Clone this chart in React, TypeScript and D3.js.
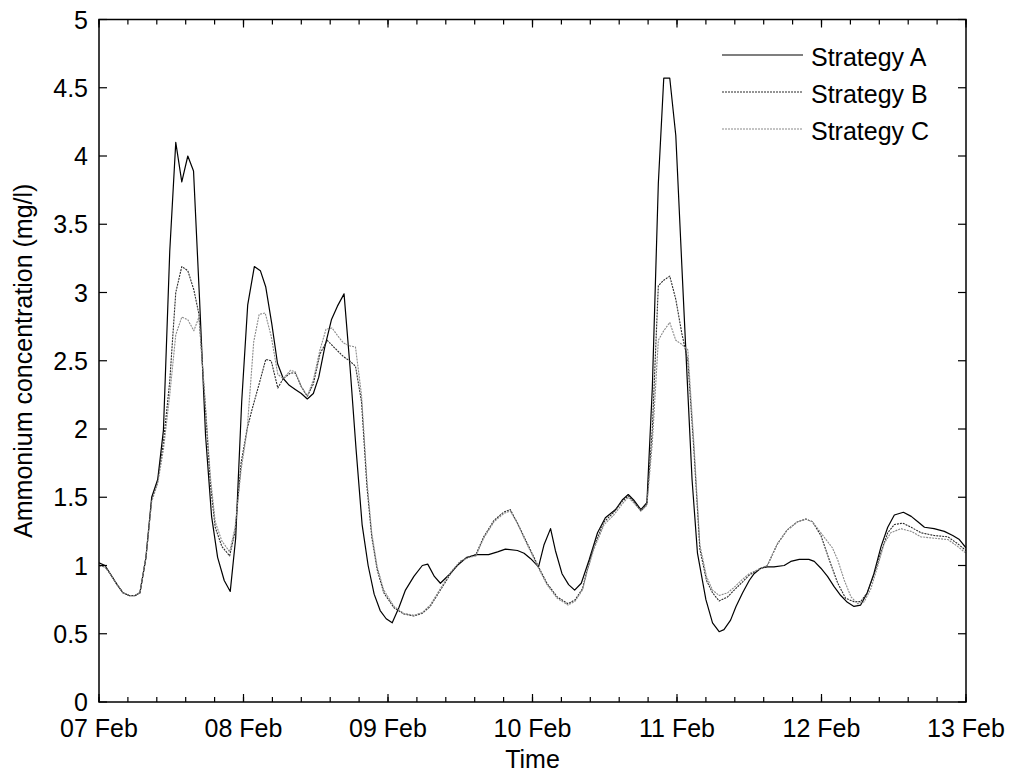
import React from "react";
import * as d3 from "d3";

// x values are hours after 07 Feb 00:00
const dayLabels = ["07 Feb", "08 Feb", "09 Feb", "10 Feb", "11 Feb", "12 Feb", "13 Feb"];
const yTickValues = [0, 0.5, 1, 1.5, 2, 2.5, 3, 3.5, 4, 4.5, 5];
const seriesNames = ["Strategy A", "Strategy B", "Strategy C"];

const strategyA: [number, number][] = [
  [0, 1.02], [1, 1.0], [2, 0.93], [3, 0.86], [4, 0.8], [5, 0.78], [6, 0.78], [6.8, 0.8],
  [7.8, 1.06], [8.75, 1.5], [9.75, 1.63], [10.7, 1.99], [11.75, 3.3], [12.75, 4.1],
  [13.75, 3.81], [14.75, 4.0], [15.7, 3.89], [16.7, 2.95], [17.7, 1.95], [18.7, 1.36],
  [19.7, 1.06], [20.8, 0.89], [21.8, 0.81], [22.7, 1.2], [23.7, 2.2], [24.7, 2.91],
  [25.8, 3.19], [26.8, 3.16], [27.7, 3.04], [28.7, 2.77], [29.65, 2.48], [30.6, 2.37],
  [31.6, 2.32], [32.6, 2.29], [33.6, 2.26], [34.6, 2.22], [35.6, 2.26], [36.5, 2.38],
  [37.5, 2.6], [38.6, 2.8], [39.6, 2.9], [40.7, 2.99], [41.7, 2.45], [42.7, 1.85],
  [43.7, 1.3], [44.7, 1.0], [45.7, 0.79], [46.7, 0.67], [47.7, 0.61], [48.7, 0.58],
  [49.8, 0.69], [50.9, 0.82], [52.3, 0.92], [53.7, 1.0], [54.6, 1.01], [55.7, 0.92],
  [56.7, 0.87], [58.1, 0.93], [59.5, 1.0], [61.1, 1.06], [62.8, 1.08], [64.7, 1.08],
  [66.2, 1.1], [67.5, 1.12], [69.5, 1.11], [70.6, 1.09], [71.7, 1.05], [73, 0.99],
  [73.9, 1.15], [75, 1.27], [75.8, 1.11], [76.9, 0.94], [78, 0.86], [79, 0.82],
  [80.1, 0.87], [81.4, 1.04], [82.8, 1.24], [84.1, 1.35], [85.8, 1.41], [86.9, 1.48],
  [87.9, 1.52], [88.8, 1.48], [90, 1.41], [91, 1.46], [91.9, 2.3], [92.9, 3.8],
  [93.8, 4.57], [94.8, 4.57], [95.8, 4.15], [96.8, 3.2], [97.7, 2.36], [98.5, 1.63],
  [99.4, 1.09], [100.8, 0.75], [101.9, 0.58], [103, 0.515], [103.8, 0.53], [104.9, 0.6],
  [105.8, 0.7], [106.9, 0.8], [108, 0.89], [108.8, 0.94], [109.9, 0.98], [111, 0.99],
  [112.1, 0.99], [113.8, 1.0], [114.9, 1.03], [116.3, 1.045], [117.9, 1.045], [118.8, 1.03],
  [119.9, 0.98], [121, 0.92], [122.1, 0.845], [123.2, 0.78], [124.3, 0.73], [125.4, 0.7],
  [126.5, 0.71], [127.6, 0.8], [128.7, 0.94], [129.9, 1.14], [131, 1.28], [132.1, 1.37],
  [133.6, 1.39], [134.9, 1.36], [136, 1.32], [137.1, 1.28], [138.7, 1.27], [140.4, 1.25],
  [141.8, 1.22], [142.9, 1.19], [144.1, 1.13],
];

const strategyB: [number, number][] = [
  [0, 1.0], [1, 0.99], [2, 0.93], [3, 0.86], [4, 0.8], [5, 0.78], [6, 0.78], [6.8, 0.8],
  [7.8, 1.06], [8.75, 1.48], [9.75, 1.62], [10.7, 1.9], [11.75, 2.35], [12.75, 3.0],
  [13.75, 3.19], [14.75, 3.16], [15.75, 3.02], [16.6, 2.84], [17.6, 2.2], [18.5, 1.6],
  [19.3, 1.28], [20.4, 1.14], [21.7, 1.07], [22.6, 1.25], [23.6, 1.75], [24.6, 2.0],
  [25.4, 2.14], [26.6, 2.33], [27.7, 2.51], [28.6, 2.5], [29.7, 2.3], [30.6, 2.37],
  [31.8, 2.41], [32.6, 2.41], [33.6, 2.31], [34.6, 2.24], [35.6, 2.33], [36.7, 2.55],
  [37.9, 2.65], [39, 2.6], [40.6, 2.53], [41.6, 2.5], [42.6, 2.46], [43.6, 2.2],
  [44.5, 1.58], [45.3, 1.21], [46.2, 0.97], [47.3, 0.8], [49, 0.69], [50.6, 0.645],
  [52.3, 0.63], [53.7, 0.65], [55, 0.7], [56.7, 0.82], [58.4, 0.94], [60, 1.03],
  [61.4, 1.06], [62.6, 1.08], [63.9, 1.21], [65.6, 1.33], [67.2, 1.39], [68.3, 1.41],
  [69.5, 1.31], [70.6, 1.21], [71.7, 1.11], [73, 0.99], [74.4, 0.87], [76.1, 0.77],
  [77.9, 0.72], [79.1, 0.75], [80.3, 0.83], [81.1, 0.97], [82.2, 1.14], [83.9, 1.32],
  [85.5, 1.39], [86.9, 1.47], [87.9, 1.51], [88.8, 1.47], [90, 1.4], [91, 1.45],
  [91.9, 2.0], [92.9, 3.05], [93.8, 3.09], [94.8, 3.12], [95.8, 2.95], [96.8, 2.7],
  [97.8, 2.5], [98.8, 1.85], [99.8, 1.12], [100.9, 0.89], [101.9, 0.8], [103, 0.74],
  [104.4, 0.77], [105.5, 0.82], [106.9, 0.88], [108, 0.93], [109.5, 0.97], [111, 1.0],
  [112.7, 1.16], [114.3, 1.26], [116, 1.32], [117.4, 1.34], [118.5, 1.32], [119.9, 1.22],
  [121.3, 1.04], [122.7, 0.87], [124, 0.76], [125.4, 0.735], [126.5, 0.735], [127.6, 0.8],
  [128.7, 0.93], [129.9, 1.1], [131, 1.24], [132.1, 1.3], [133.5, 1.31], [134.9, 1.28],
  [136.5, 1.24], [138.7, 1.22], [141, 1.21], [142.6, 1.16], [144.1, 1.11],
];

const strategyC: [number, number][] = [
  [0, 1.0], [1, 0.99], [2, 0.93], [3, 0.86], [4, 0.8], [5, 0.78], [6, 0.78], [6.8, 0.8],
  [7.8, 1.06], [8.75, 1.47], [9.75, 1.6], [10.7, 1.85], [11.75, 2.25], [12.75, 2.69],
  [13.75, 2.82], [14.75, 2.8], [15.75, 2.72], [16.6, 2.82], [17.6, 2.22], [18.5, 1.65],
  [19.3, 1.32], [20.4, 1.18], [21.7, 1.1], [22.6, 1.28], [23.6, 1.7], [24.6, 1.99],
  [25.7, 2.64], [26.6, 2.84], [27.6, 2.85], [28.6, 2.68], [29.7, 2.4], [30.6, 2.37],
  [31.8, 2.43], [32.6, 2.42], [33.6, 2.31], [34.6, 2.24], [35.6, 2.36], [36.7, 2.58],
  [37.7, 2.73], [38.7, 2.74], [39.7, 2.68], [40.6, 2.63], [41.6, 2.61], [42.6, 2.6],
  [43.6, 2.25], [44.5, 1.62], [45.3, 1.24], [46.2, 0.99], [47.3, 0.82], [49, 0.7],
  [50.6, 0.65], [52.3, 0.635], [53.7, 0.655], [55, 0.71], [56.7, 0.83], [58.4, 0.95],
  [60, 1.03], [61.4, 1.06], [62.6, 1.07], [63.9, 1.2], [65.6, 1.32], [67.2, 1.38],
  [68.3, 1.4], [69.5, 1.31], [70.6, 1.2], [71.7, 1.1], [73, 0.98], [74.4, 0.86],
  [76.1, 0.76], [77.9, 0.71], [79.1, 0.74], [80.3, 0.82], [81.1, 0.96], [82.2, 1.12],
  [83.9, 1.3], [85.5, 1.37], [86.9, 1.45], [87.9, 1.5], [88.8, 1.46], [90, 1.4],
  [91, 1.44], [91.9, 1.9], [92.9, 2.65], [93.8, 2.72], [94.8, 2.78], [95.8, 2.65],
  [96.8, 2.62], [97.8, 2.58], [98.8, 1.9], [99.8, 1.15], [100.9, 0.92], [101.9, 0.82],
  [103, 0.78], [104.4, 0.8], [105.5, 0.84], [106.9, 0.9], [108, 0.94], [109.5, 0.97],
  [111, 1.0], [112.7, 1.16], [114.3, 1.26], [116, 1.32], [117.4, 1.34], [118.5, 1.32],
  [120.4, 1.21], [121.8, 1.13], [122.7, 1.04], [123.8, 0.89], [124.9, 0.77], [126, 0.72],
  [127.1, 0.735], [128.2, 0.83], [129.3, 0.99], [130.4, 1.16], [131.5, 1.24], [133.2, 1.27],
  [134.9, 1.25], [136.5, 1.21], [138.7, 1.2], [141, 1.19], [142.6, 1.14], [144.1, 1.09],
];

const W = 1013;
const H = 778;
const margin = { left: 99, right: 966, top: 19.5, bottom: 702 };
const FONT = "'Liberation Sans', Arial, Helvetica, sans-serif";

export default function App() {
  const x = d3.scaleLinear().domain([0, 144]).range([margin.left, margin.right]);
  const y = d3.scaleLinear().domain([0, 5]).range([margin.bottom, margin.top]);
  const line = d3
    .line<[number, number]>()
    .x((d) => x(Math.min(d[0], 144)))
    .y((d) => y(d[1]));

  const series = [
    { name: seriesNames[0], data: strategyA, color: "#000", dash: "none", w: 1.2 },
    { name: seriesNames[1], data: strategyB, color: "#2a2a2a", dash: "2,1", w: 1.1 },
    { name: seriesNames[2], data: strategyC, color: "#8a8a8a", dash: "2,1", w: 1.1 },
  ];

  const dayTicks = d3.range(0, 145, 24);
  const minorTicks = d3.range(0, 144.01, 4.8);

  return (
    <svg
      width={W}
      height={H}
      style={{ position: "absolute", left: 0, top: 0, background: "#fff" }}
      fontFamily={FONT}
    >
      <rect x={0} y={0} width={W} height={H} fill="#fff" />
      <defs>
        <clipPath id="plotclip">
          <rect x={margin.left} y={margin.top} width={margin.right - margin.left} height={margin.bottom - margin.top} />
        </clipPath>
      </defs>

      {/* data */}
      <g clipPath="url(#plotclip)">
        {series.map((s) => (
          <path
            key={s.name}
            d={line(s.data) || ""}
            fill="none"
            stroke={s.color}
            strokeWidth={s.w}
            strokeDasharray={s.dash}
            strokeLinejoin="round"
          />
        ))}
      </g>

      {/* ticks */}
      <g stroke="#000" strokeWidth={1.2}>
        {yTickValues.map((v) => (
          <g key={"yt" + v}>
            <line x1={margin.left} x2={margin.left + 8} y1={y(v)} y2={y(v)} />
            <line x1={margin.right} x2={margin.right - 8} y1={y(v)} y2={y(v)} />
          </g>
        ))}
        {minorTicks.map((t) => (
          <g key={"xt" + t}>
            <line x1={x(t)} x2={x(t)} y1={margin.bottom} y2={margin.bottom - 5} />
            <line x1={x(t)} x2={x(t)} y1={margin.top} y2={margin.top + 5} />
          </g>
        ))}
        {dayTicks.map((t) => (
          <g key={"dt" + t}>
            <line x1={x(t)} x2={x(t)} y1={margin.bottom} y2={margin.bottom - 8} />
            <line x1={x(t)} x2={x(t)} y1={margin.top} y2={margin.top + 8} />
          </g>
        ))}
      </g>

      {/* box */}
      <rect
        x={margin.left}
        y={margin.top}
        width={margin.right - margin.left}
        height={margin.bottom - margin.top}
        fill="none"
        stroke="#000"
        strokeWidth={1.5}
      />

      {/* y tick labels */}
      {yTickValues.map((v) => (
        <text key={"yl" + v} x={margin.left - 11} y={y(v) + 9} textAnchor="end" fontSize={25} fill="#000">
          {String(v)}
        </text>
      ))}

      {/* x tick labels */}
      {dayTicks.map((t, i) => (
        <text key={"xl" + t} x={x(t)} y={737} textAnchor="middle" fontSize={25} fill="#000">
          {dayLabels[i]}
        </text>
      ))}

      {/* axis titles */}
      <text x={(margin.left + margin.right) / 2} y={768} textAnchor="middle" fontSize={25} fill="#000">
        Time
      </text>
      <text
        transform={`translate(32, ${(margin.top + margin.bottom) / 2}) rotate(-90)`}
        textAnchor="middle"
        fontSize={25}
        fill="#000"
      >
        Ammonium concentration (mg/l)
      </text>

      {/* legend */}
      {series.map((s, i) => {
        const ly = 55 + i * 37;
        return (
          <g key={"lg" + s.name}>
            <line x1={722} x2={803} y1={ly} y2={ly} stroke={s.color} strokeWidth={s.w} strokeDasharray={s.dash} />
            <text x={811} y={ly + 11} fontSize={25} fill="#000">
              {s.name}
            </text>
          </g>
        );
      })}
    </svg>
  );
}
